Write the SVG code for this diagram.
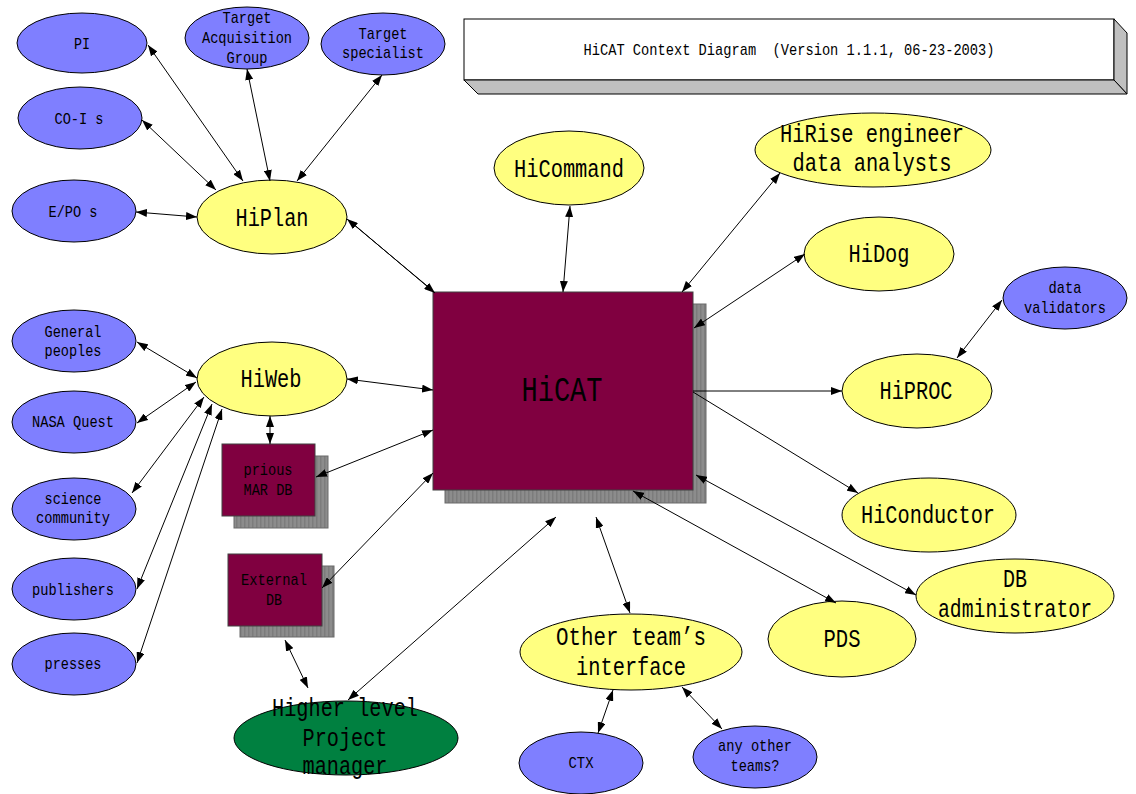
<svg xmlns="http://www.w3.org/2000/svg" width="1136" height="794" viewBox="0 0 1136 794">
  <style>
    text { font-family: "Liberation Mono", "DejaVu Sans Mono", monospace; fill: #000; text-anchor: middle; }
    .s { font-size: 17px; }
    .m { font-size: 26px; }
    .l { font-size: 35px; }
    .ext { fill: #7f7fff; stroke: #000; stroke-width: 1; }
    .sys { fill: #ffff80; stroke: #000; stroke-width: 1; }
    .mgr { fill: #008040; stroke: #000; stroke-width: 1; }
    .db { fill: #800040; stroke: #404040; stroke-width: 1; }
    .shadow { fill: url(#stripes); stroke: #6a6a6a; stroke-width: 1; }
    .bevel { fill: #c0c0c0; stroke: #000; stroke-width: 1; }
    #connectors line { stroke: #000; stroke-width: 1; fill: none; }
    .both { marker-start: url(#head); marker-end: url(#head); }
    .fwd { marker-end: url(#head); }
    .back { marker-start: url(#head); }
  </style>
  <defs>
    <marker id="head" viewBox="0 0 11 8" refX="11" refY="4" markerWidth="11" markerHeight="8" markerUnits="userSpaceOnUse" orient="auto-start-reverse">
      <path d="M0,0 L11,4 L0,8 z" fill="#000"/>
    </marker>
    <pattern id="stripes" x="0" y="0" width="4" height="4" patternUnits="userSpaceOnUse">
      <rect width="4" height="4" fill="#8c8c8c"/>
      <rect width="1.5" height="4" fill="#7c7c7c"/>
    </pattern>
  </defs>

  <rect width="1136" height="794" fill="#fff"/>

  <!-- title banner -->
  <g id="title">
    <rect x="464" y="19" width="650" height="61" fill="#fff" stroke="#000"/>
    <polygon class="bevel" points="1114,19 1127,33 1127,94 1114,80"/>
    <polygon class="bevel" points="464,80 1114,80 1127,94 478,94"/>
    <text class="s" x="789" y="55" xml:space="preserve" textLength="411" lengthAdjust="spacingAndGlyphs">HiCAT Context Diagram  (Version 1.1.1, 06-23-2003)</text>
  </g>

  <!-- HiPlan cluster -->
  <g id="n-pi">
    <ellipse class="ext" cx="82" cy="43" rx="65" ry="30"/>
    <text class="s" x="82" y="49" textLength="16" lengthAdjust="spacingAndGlyphs">PI</text>
  </g>
  <g id="n-target-acquisition">
    <ellipse class="ext" cx="247" cy="38" rx="62" ry="31"/>
    <text class="s" x="247" y="23" textLength="49" lengthAdjust="spacingAndGlyphs">Target</text>
    <text class="s" x="247" y="43" textLength="90" lengthAdjust="spacingAndGlyphs">Acquisition</text>
    <text class="s" x="247" y="63" textLength="41" lengthAdjust="spacingAndGlyphs">Group</text>
  </g>
  <g id="n-target-specialist">
    <ellipse class="ext" cx="383" cy="44" rx="62" ry="31"/>
    <text class="s" x="383" y="39" textLength="49" lengthAdjust="spacingAndGlyphs">Target</text>
    <text class="s" x="383" y="58" textLength="82" lengthAdjust="spacingAndGlyphs">specialist</text>
  </g>
  <g id="n-coi">
    <ellipse class="ext" cx="80" cy="118" rx="62" ry="31"/>
    <text class="s" x="79" y="124" textLength="49" lengthAdjust="spacingAndGlyphs">CO-I s</text>
  </g>
  <g id="n-epo">
    <ellipse class="ext" cx="74" cy="211" rx="62" ry="31"/>
    <text class="s" x="73" y="217" textLength="49" lengthAdjust="spacingAndGlyphs">E/PO s</text>
  </g>
  <g id="n-hiplan">
    <ellipse class="sys" cx="272" cy="217" rx="75" ry="37"/>
    <text class="m" x="272" y="226" textLength="73" lengthAdjust="spacingAndGlyphs">HiPlan</text>
  </g>

  <!-- HiWeb cluster -->
  <g id="n-general">
    <ellipse class="ext" cx="74" cy="341" rx="62" ry="31"/>
    <text class="s" x="73" y="337" textLength="57" lengthAdjust="spacingAndGlyphs">General</text>
    <text class="s" x="73" y="356" textLength="57" lengthAdjust="spacingAndGlyphs">peoples</text>
  </g>
  <g id="n-nasa">
    <ellipse class="ext" cx="74" cy="422" rx="62" ry="31"/>
    <text class="s" x="73" y="427" textLength="82" lengthAdjust="spacingAndGlyphs">NASA Quest</text>
  </g>
  <g id="n-science">
    <ellipse class="ext" cx="74" cy="509" rx="62" ry="31"/>
    <text class="s" x="73" y="504" textLength="57" lengthAdjust="spacingAndGlyphs">science</text>
    <text class="s" x="73" y="523" textLength="74" lengthAdjust="spacingAndGlyphs">community</text>
  </g>
  <g id="n-publishers">
    <ellipse class="ext" cx="74" cy="589" rx="62" ry="31"/>
    <text class="s" x="73" y="595" textLength="82" lengthAdjust="spacingAndGlyphs">publishers</text>
  </g>
  <g id="n-presses">
    <ellipse class="ext" cx="74" cy="664" rx="62" ry="31"/>
    <text class="s" x="73" y="669" textLength="57" lengthAdjust="spacingAndGlyphs">presses</text>
  </g>
  <g id="n-hiweb">
    <ellipse class="sys" cx="272" cy="379" rx="75" ry="37"/>
    <text class="m" x="271" y="387" textLength="61" lengthAdjust="spacingAndGlyphs">HiWeb</text>
  </g>

  <!-- databases -->
  <g id="n-prious-mar-db">
    <rect class="shadow" x="234" y="456" width="94" height="72"/>
    <rect class="db" x="222" y="444" width="93" height="72"/>
    <text class="s" x="268" y="475" textLength="49" lengthAdjust="spacingAndGlyphs">prious</text>
    <text class="s" x="268" y="495" textLength="49" lengthAdjust="spacingAndGlyphs">MAR DB</text>
  </g>
  <g id="n-external-db">
    <rect class="shadow" x="240" y="566" width="94" height="71"/>
    <rect class="db" x="228" y="554" width="94" height="72"/>
    <text class="s" x="274" y="585" textLength="66" lengthAdjust="spacingAndGlyphs">External</text>
    <text class="s" x="274" y="605" textLength="16" lengthAdjust="spacingAndGlyphs">DB</text>
  </g>
  <g id="n-hicat">
    <rect class="shadow" x="445" y="304" width="261" height="199"/>
    <rect class="db" x="433" y="292" width="260" height="198"/>
    <text class="l" x="562" y="401" textLength="81" lengthAdjust="spacingAndGlyphs">HiCAT</text>
  </g>

  <!-- manager -->
  <g id="n-higher-level">
    <ellipse class="mgr" cx="346" cy="738" rx="112" ry="37"/>
    <text class="m" x="345" y="716" textLength="146" lengthAdjust="spacingAndGlyphs">Higher level</text>
    <text class="m" x="345" y="746" textLength="85" lengthAdjust="spacingAndGlyphs">Project</text>
    <text class="m" x="345" y="774" textLength="85" lengthAdjust="spacingAndGlyphs">manager</text>
  </g>

  <!-- right-hand subsystems -->
  <g id="n-hicommand">
    <ellipse class="sys" cx="569" cy="168" rx="75" ry="37"/>
    <text class="m" x="569" y="177" textLength="110" lengthAdjust="spacingAndGlyphs">HiCommand</text>
  </g>
  <g id="n-hirise">
    <ellipse class="sys" cx="873" cy="150" rx="118" ry="37"/>
    <text class="m" x="872" y="142" textLength="184" lengthAdjust="spacingAndGlyphs">HiRise engineer</text>
    <text class="m" x="872" y="171" textLength="159" lengthAdjust="spacingAndGlyphs">data analysts</text>
  </g>
  <g id="n-hidog">
    <ellipse class="sys" cx="879" cy="254" rx="75" ry="37"/>
    <text class="m" x="879" y="262" textLength="61" lengthAdjust="spacingAndGlyphs">HiDog</text>
  </g>
  <g id="n-data-validators">
    <ellipse class="ext" cx="1065" cy="298" rx="62" ry="31"/>
    <text class="s" x="1065" y="293" textLength="33" lengthAdjust="spacingAndGlyphs">data</text>
    <text class="s" x="1065" y="313" textLength="82" lengthAdjust="spacingAndGlyphs">validators</text>
  </g>
  <g id="n-hiproc">
    <ellipse class="sys" cx="917" cy="391" rx="75" ry="37"/>
    <text class="m" x="916" y="399" textLength="73" lengthAdjust="spacingAndGlyphs">HiPROC</text>
  </g>
  <g id="n-hiconductor">
    <ellipse class="sys" cx="929" cy="515" rx="87" ry="37"/>
    <text class="m" x="928" y="523" textLength="134" lengthAdjust="spacingAndGlyphs">HiConductor</text>
  </g>
  <g id="n-db-administrator">
    <ellipse class="sys" cx="1015" cy="596" rx="99" ry="37"/>
    <text class="m" x="1015" y="587" textLength="24" lengthAdjust="spacingAndGlyphs">DB</text>
    <text class="m" x="1015" y="617" textLength="154" lengthAdjust="spacingAndGlyphs">administrator</text>
  </g>
  <g id="n-pds">
    <ellipse class="sys" cx="842" cy="639" rx="74" ry="38"/>
    <text class="m" x="842" y="647" textLength="37" lengthAdjust="spacingAndGlyphs">PDS</text>
  </g>

  <!-- other teams -->
  <g id="n-other-team">
    <ellipse class="sys" cx="631" cy="652" rx="111" ry="38"/>
    <text class="m" x="631" y="645" textLength="150" lengthAdjust="spacingAndGlyphs">Other team’s</text>
    <text class="m" x="631" y="675" textLength="110" lengthAdjust="spacingAndGlyphs">interface</text>
  </g>
  <g id="n-ctx">
    <ellipse class="ext" cx="581" cy="763" rx="62" ry="31"/>
    <text class="s" x="581" y="768" textLength="25" lengthAdjust="spacingAndGlyphs">CTX</text>
  </g>
  <g id="n-any-other">
    <ellipse class="ext" cx="755" cy="757" rx="62" ry="31"/>
    <text class="s" x="755" y="751" textLength="74" lengthAdjust="spacingAndGlyphs">any other</text>
    <text class="s" x="755" y="771" textLength="49" lengthAdjust="spacingAndGlyphs">teams?</text>
  </g>

  <!-- connectors, drawn over the box shadows -->
  <g id="connectors">
    <line class="both" x1="148" y1="45" x2="243" y2="181"/>
    <line class="both" x1="247" y1="69" x2="270" y2="181"/>
    <line class="both" x1="382" y1="75" x2="297" y2="181"/>
    <line class="both" x1="142" y1="120" x2="216" y2="190"/>
    <line class="both" x1="136" y1="212" x2="197" y2="217"/>
    <line class="back" x1="347" y1="219" x2="432" y2="290"/>
    <line class="fwd" x1="351" y1="222" x2="435" y2="293"/>

    <line class="both" x1="137" y1="342" x2="197" y2="378"/>
    <line class="both" x1="137" y1="423" x2="196" y2="382"/>
    <line class="both" x1="132" y1="493" x2="204" y2="397"/>
    <line class="both" x1="137" y1="589" x2="212" y2="404"/>
    <line class="both" x1="137" y1="663" x2="222" y2="409"/>
    <line class="both" x1="347" y1="379" x2="433" y2="390"/>
    <line class="both" x1="270" y1="416" x2="270" y2="444"/>
    <line class="both" x1="316" y1="477" x2="433" y2="430"/>
    <line class="both" x1="322" y1="588" x2="433" y2="473"/>
    <line class="both" x1="285" y1="640" x2="308" y2="688"/>
    <line class="both" x1="348" y1="700" x2="556" y2="517"/>

    <line class="both" x1="596" y1="517" x2="630" y2="613"/>
    <line class="both" x1="633" y1="491" x2="836" y2="603"/>
    <line class="both" x1="696" y1="475" x2="916" y2="595"/>
    <line class="fwd" x1="693" y1="392" x2="858" y2="493"/>
    <line class="fwd" x1="693" y1="391" x2="842" y2="391"/>
    <line class="both" x1="1002" y1="300" x2="957" y2="358"/>
    <line class="both" x1="805" y1="254" x2="694" y2="328"/>
    <line class="both" x1="780" y1="173" x2="682" y2="292"/>
    <line class="both" x1="570" y1="206" x2="563" y2="292"/>
    <line class="both" x1="598" y1="733" x2="613" y2="690"/>
    <line class="both" x1="722" y1="729" x2="682" y2="687"/>
  </g>
</svg>
